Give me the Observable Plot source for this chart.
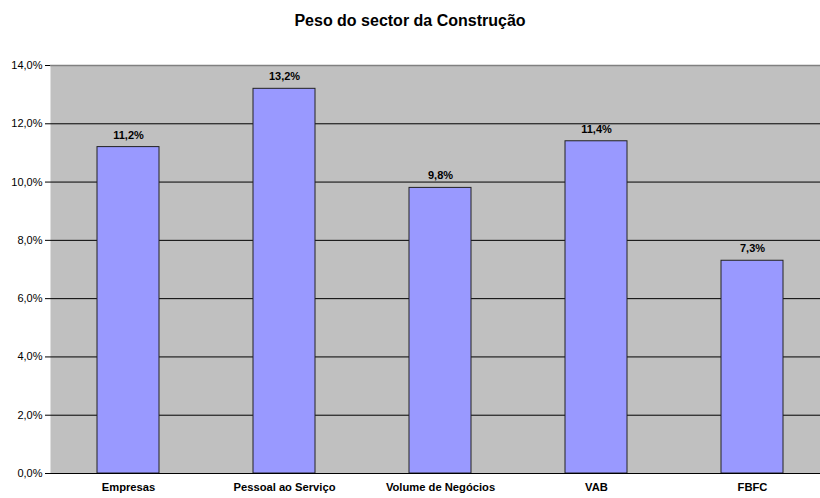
<!DOCTYPE html>
<html>
<head>
<meta charset="utf-8">
<script src="https://cdn.jsdelivr.net/npm/d3@7"></script>
<script src="https://cdn.jsdelivr.net/npm/@observablehq/plot@0.6"></script>
<style>
  html, body { margin: 0; padding: 0; background: #fff; }
  body { width: 820px; height: 498px; overflow: hidden; font-family: "Liberation Sans", Arial, sans-serif; }
  #title { height: 45px; box-sizing: border-box; padding-top: 12px; text-align: center; font-weight: bold; font-size: 16px; color: #000; }
  svg { display: block; }
</style>
</head>
<body>
<div id="title">Peso do sector da Construção</div>
<div id="chart"></div>
<script>
const categories = ["Empresas", "Pessoal ao Serviço", "Volume de Negócios", "VAB", "FBFC"];
const values = [11.2, 13.2, 9.8, 11.4, 7.3];
const yTicks = [0, 2, 4, 6, 8, 10, 12, 14];

const data = categories.map((c, i) => ({category: c, value: values[i]}));
const fmt = d => d.toFixed(1).replace(".", ",") + "%";

const chart = Plot.plot({
  width: 820,
  height: 453,
  marginTop: 20,
  marginBottom: 25,
  marginLeft: 50,
  marginRight: 0,
  style: {fontFamily: "Liberation Sans, Arial, sans-serif", fontSize: "11px", color: "#000", background: "#fff"},
  x: {domain: categories, paddingInner: 0.6, paddingOuter: 0.3, range: [50, 831], label: null},
  y: {domain: [0, 14], label: null},
  marks: [
    Plot.frame({fill: "#c0c0c0", stroke: null}),
    Plot.ruleY(yTicks.filter(d => d > 0 && d < 14), {stroke: "#000", strokeWidth: 1}),
    Plot.ruleY([14], {stroke: "#808080", strokeWidth: 1.5}),
    Plot.barY(data, {x: "category", y: "value", fill: "#9999ff", stroke: "#222", strokeWidth: 1}),
    Plot.text(data, {x: "category", y: "value", text: d => fmt(d.value), dy: -12, fontWeight: "bold", fontSize: 11, fill: "#000"}),
    Plot.ruleX([0], {frameAnchor: "left", stroke: "#666"}),
    Plot.ruleY([0], {stroke: "#000"}),
    Plot.axisX({tickSize: 0, tickPadding: 10, fontWeight: "bold", fontSize: 11.2}),
    Plot.axisY({ticks: yTicks, tickFormat: fmt, tickSize: 5, tickPadding: 3, fontSize: 11})
  ]
});
document.getElementById("chart").appendChild(chart);
</script>
</body>
</html>
